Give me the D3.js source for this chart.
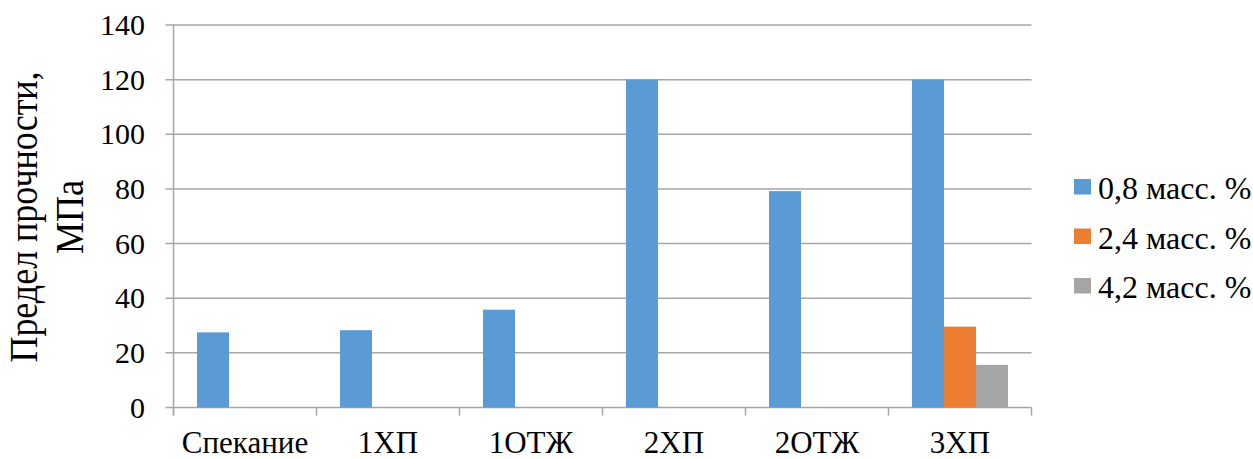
<!DOCTYPE html>
<html>
<head>
<meta charset="utf-8">
<script src="https://cdn.jsdelivr.net/npm/d3@7"></script>
<style>
  body { margin: 0; background: #fff; }
</style>
</head>
<body>
<script>
// данные с картинки
const categories = ["Спекание", "1ХП", "1ОТЖ", "2ХП", "2ОТЖ", "3ХП"];
const seriesNames = ["0,8 масс. %", "2,4 масс. %", "4,2 масс. %"];
const values08 = [27.5, 28.3, 35.8, 120, 79.2, 120];
const values24 = [0, 0, 0, 0, 0, 29.6];
const values42 = [0, 0, 0, 0, 0, 15.6];
const yTicks = [0, 20, 40, 60, 80, 100, 120, 140];
const colors = ["#5b9bd5", "#ed7d31", "#a5a5a5"];

const fontFamily = "Liberation Serif";

const width = 1253, height = 459;
const margin = {top: 25, right: 221.5, bottom: 51.5, left: 173.5};
const innerW = width - margin.left - margin.right;
const innerH = height - margin.top - margin.bottom;

const root = d3.select("body").append("svg")
  .attr("width", width)
  .attr("height", height);

const svg = root.append("g")
  .attr("transform", `translate(${margin.left},${margin.top})`);

const allValues = [values08, values24, values42];
const rows = categories.map((c, i) => ({
  cat: c,
  vals: seriesNames.map((s, j) => ({series: s, idx: j, v: allValues[j][i]}))
}));

const x0 = d3.scaleBand().domain(categories).range([0, innerW]).padding(0);
const x1 = d3.scaleBand().domain(seriesNames).range([0, x0.bandwidth()]).paddingInner(0).paddingOuter(0.734);
const y = d3.scaleLinear().domain([0, 140]).range([innerH, 0]);

const gridColor = "#a6a6a6";

// сетка
svg.append("g")
  .selectAll("line")
  .data(yTicks)
  .join("line")
  .attr("x1", -8)
  .attr("x2", innerW)
  .attr("y1", d => y(d))
  .attr("y2", d => y(d))
  .attr("stroke", gridColor)
  .attr("stroke-width", 1.5);

// ось Y
svg.append("line")
  .attr("x1", 0).attr("x2", 0)
  .attr("y1", 0).attr("y2", innerH + 8)
  .attr("stroke", gridColor)
  .attr("stroke-width", 1.5);

svg.append("g")
  .selectAll("text")
  .data(yTicks)
  .join("text")
  .attr("x", -28.5)
  .attr("y", d => y(d))
  .attr("dy", "0.34em")
  .attr("text-anchor", "end")
  .attr("font-family", fontFamily)
  .attr("font-size", 30)
  .text(d => d);

// ось X - деления
const xTickPos = categories.map(c => x0(c)).concat([innerW]);
svg.append("g")
  .selectAll("line")
  .data(xTickPos)
  .join("line")
  .attr("x1", d => d).attr("x2", d => d)
  .attr("y1", innerH).attr("y2", innerH + 8)
  .attr("stroke", gridColor)
  .attr("stroke-width", 1.5);

svg.append("g")
  .selectAll("text")
  .data(categories)
  .join("text")
  .attr("x", d => x0(d) + x0.bandwidth() / 2)
  .attr("y", innerH + 45)
  .attr("text-anchor", "middle")
  .attr("font-family", fontFamily)
  .attr("font-size", 31)
  .text(d => d);

// столбцы
svg.append("g")
  .selectAll("g")
  .data(rows)
  .join("g")
  .attr("transform", d => `translate(${x0(d.cat)},0)`)
  .selectAll("rect")
  .data(d => d.vals.filter(v => v.v > 0))
  .join("rect")
  .attr("x", d => x1(d.series))
  .attr("width", x1.bandwidth())
  .attr("y", d => y(d.v))
  .attr("height", d => y(0) - y(d.v))
  .attr("fill", d => colors[d.idx]);

// подпись оси Y (в оригинале буквы чуть вытянуты)
const yTitle = root.append("text")
  .attr("transform", "translate(37,217) rotate(-90) scale(1,1.1)")
  .attr("text-anchor", "middle")
  .attr("font-family", fontFamily)
  .attr("font-size", 36);
yTitle.append("tspan").attr("x", 0).attr("dy", 0).text("Предел прочности,");
yTitle.append("tspan").attr("x", 0).attr("dy", 42).text("МПа");

// легенда
const legend = root.append("g")
  .attr("transform", "translate(1074,199)");

const items = legend.selectAll("g")
  .data(seriesNames)
  .join("g")
  .attr("transform", (d, i) => `translate(0,${i * 49.5})`);

items.append("rect")
  .attr("x", 0).attr("y", -20)
  .attr("width", 17).attr("height", 15.5)
  .attr("fill", (d, i) => colors[i]);

items.append("text")
  .attr("x", 24)
  .attr("y", 0)
  .attr("font-family", fontFamily)
  .attr("font-size", 32)
  .text(d => d);
</script>
</body>
</html>
